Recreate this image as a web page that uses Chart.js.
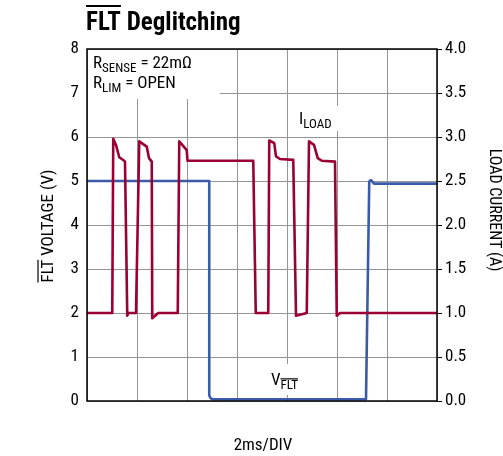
<!DOCTYPE html>
<html lang="en">
<head>
    <meta charset="UTF-8">
    <title>FLT Deglitching</title>
    <script src="https://cdn.jsdelivr.net/npm/chart.js@4.4.0/dist/chart.umd.min.js"></script>
    <style>
        html, body { margin: 0; padding: 0; background: #ffffff; }
        #wrap { width: 503px; height: 456px; }
    </style>
</head>
<body>
<div id="wrap"><canvas id="canvas" width="503" height="456"></canvas></div>
<script>
    // time axis in ms, 2ms per division, 7 divisions
    const xTicksMs = [0, 2, 4, 6, 8, 10, 12, 14]
    const voltTicks = [0, 1, 2, 3, 4, 5, 6, 7, 8]
    const ampTicks = [0, 0.5, 1, 1.5, 2, 2.5, 3, 3.5, 4]

    // I_LOAD trace (right axis, A)
    const loadTimeMs = [0, 1.01, 1.05, 1.16, 1.29, 1.49, 1.52, 1.61, 1.66, 1.96, 1.99, 2.09, 2.39, 2.48, 2.59, 2.61, 2.85,
        3.63, 3.69, 3.99, 4.02, 6.65, 6.75, 7.25, 7.29, 7.49, 7.56, 7.72, 8.25, 8.36, 8.79,
        8.88, 9.08, 9.23, 9.39, 9.92, 9.99, 10.12, 14]
    const loadAmps = [1.0, 1.0, 2.98, 2.91, 2.77, 2.73, 2.72, 0.97, 1.0, 1.0, 1.0, 2.95, 2.89, 2.76, 2.72, 0.94, 1.0,
        1.0, 2.95, 2.85, 2.73, 2.73, 1.0, 1.0, 2.96, 2.93, 2.78, 2.75, 2.74, 0.97, 1.0,
        2.95, 2.91, 2.76, 2.73, 2.72, 0.97, 1.0, 1.0]

    // V_FLT trace (left axis, V)
    const fltTimeMs = [0, 4.89, 4.89, 4.95, 5.04, 11.16, 11.29, 11.36, 11.48, 14]
    const fltVolts = [5.0, 5.0, 0.12, 0.06, 0.04, 0.04, 4.99, 5.02, 4.94, 4.94]

    const FAMILY = "'Liberation Sans Narrow', 'Roboto Condensed', 'DejaVu Sans Condensed', 'Liberation Sans', sans-serif"
    const RED = '#9a0033'
    const BLUE = '#3b5ba9'
    const GRID = '#959595'

    const toPoints = (xs, ys) => xs.map((x, i) => ({ x: x, y: ys[i] }))

    const font = (size, bold) => (bold ? 'bold ' : '') + size + 'px ' + FAMILY

    // text with subscript, optional overline on the subscript
    const drawSub = (ctx, x, y, main, sub, size, subSize, overSub) => {
        ctx.font = font(size)
        ctx.fillText(main, x, y)
        const w = ctx.measureText(main).width
        ctx.font = font(subSize)
        ctx.fillText(sub, x + w, y + 4)
        const sw = ctx.measureText(sub).width
        if (overSub) {
            ctx.beginPath()
            ctx.lineWidth = 1.2
            ctx.moveTo(x + w, y + 4 - subSize * 0.78)
            ctx.lineTo(x + w + sw, y + 4 - subSize * 0.78)
            ctx.stroke()
        }
        return x + w + sw
    }

    const labelsPlugin = {
        id: 'labels',
        beforeDatasetsDraw: (chart) => {
            const ctx = chart.ctx
            ctx.save()
            ctx.fillStyle = '#ffffff'
            ctx.fillRect(88, 50, 132, 49)
            ctx.fillRect(296, 106, 46, 25)
            ctx.fillRect(268, 364, 38, 31)
            ctx.restore()
        },
        afterDraw: (chart) => {
            const ctx = chart.ctx
            const area = chart.chartArea
            ctx.save()
            // frame
            ctx.strokeStyle = '#000000'
            ctx.lineWidth = 1.5
            ctx.strokeRect(area.left, area.top, area.right - area.left, area.bottom - area.top)

            ctx.fillStyle = '#000000'
            ctx.strokeStyle = '#000000'
            ctx.textBaseline = 'alphabetic'
            ctx.textAlign = 'left'

            // title
            ctx.font = font(25, true)
            ctx.fillText('FLT Deglitching', 86, 30)
            const fw = ctx.measureText('FLT').width
            ctx.beginPath()
            ctx.lineWidth = 2
            ctx.moveTo(86, 6)
            ctx.lineTo(86 + fw, 6)
            ctx.stroke()

            // conditions
            let x = drawSub(ctx, 93, 68, 'R', 'SENSE', 17, 13, false)
            ctx.font = font(17)
            ctx.fillText(' = 22m\u03A9', x, 68)
            x = drawSub(ctx, 93, 88, 'R', 'LIM', 17, 13, false)
            ctx.font = font(17)
            ctx.fillText(' = OPEN', x, 88)

            // trace labels
            drawSub(ctx, 299, 124, 'I', 'LOAD', 17, 13, false)
            drawSub(ctx, 271, 385, 'V', 'FLT', 17, 13, true)

            // x label
            ctx.font = font(17)
            ctx.textAlign = 'center'
            ctx.fillText('2ms/DIV', 263, 450)

            // left axis title
            ctx.save()
            ctx.translate(53, 226)
            ctx.rotate(-Math.PI / 2)
            ctx.font = font(17)
            ctx.textAlign = 'left'
            const lt = 'FLT VOLTAGE (V)'
            const lw = ctx.measureText(lt).width
            ctx.fillText(lt, -lw / 2, 0)
            const lf = ctx.measureText('FLT').width
            ctx.beginPath()
            ctx.lineWidth = 1.2
            ctx.moveTo(-lw / 2, -15)
            ctx.lineTo(-lw / 2 + lf, -15)
            ctx.stroke()
            ctx.restore()

            // right axis title
            ctx.save()
            ctx.translate(490, 210)
            ctx.rotate(Math.PI / 2)
            ctx.font = font(16)
            ctx.textAlign = 'center'
            ctx.fillText('LOAD CURRENT (A)', 0, 0)
            ctx.restore()

            ctx.restore()
        }
    }

    new Chart(document.getElementById('canvas').getContext('2d'), {
        type: 'line',
        data: {
            datasets: [
                {
                    label: 'I_LOAD',
                    data: toPoints(loadTimeMs, loadAmps),
                    yAxisID: 'yA',
                    borderColor: RED,
                    borderWidth: 2.6,
                    pointRadius: 0,
                    tension: 0,
                    borderJoinStyle: 'round',
                    fill: false
                },
                {
                    label: 'V_FLT',
                    data: toPoints(fltTimeMs, fltVolts),
                    yAxisID: 'yV',
                    borderColor: BLUE,
                    borderWidth: 2.6,
                    pointRadius: 0,
                    tension: 0,
                    borderJoinStyle: 'round',
                    fill: false
                }
            ]
        },
        options: {
            responsive: false,
            animation: false,
            devicePixelRatio: 1,
            layout: { padding: { top: 49, left: 0, right: 0, bottom: 0 } },
            plugins: {
                legend: { display: false },
                tooltip: { enabled: false }
            },
            scales: {
                x: {
                    type: 'linear',
                    min: 0,
                    max: 14,
                    afterBuildTicks: (s) => { s.ticks = xTicksMs.map(v => ({ value: v })) },
                    afterFit: (s) => { s.height = 55 },
                    ticks: { display: false },
                    border: { display: false },
                    grid: { color: GRID, lineWidth: 1, tickLength: 0 }
                },
                yV: {
                    type: 'linear',
                    position: 'left',
                    min: 0,
                    max: 8,
                    afterBuildTicks: (s) => { s.ticks = voltTicks.map(v => ({ value: v })) },
                    afterFit: (s) => { s.width = 87 },
                    border: { display: false },
                    grid: { color: GRID, lineWidth: 1, tickLength: 0 },
                    ticks: {
                        color: '#000000',
                        padding: 8,
                        font: { family: FAMILY, size: 17 },
                        callback: (v) => String(v)
                    }
                },
                yA: {
                    type: 'linear',
                    position: 'right',
                    min: 0,
                    max: 4,
                    afterBuildTicks: (s) => { s.ticks = ampTicks.map(v => ({ value: v })) },
                    afterFit: (s) => { s.width = 66 },
                    border: { display: false },
                    grid: { drawOnChartArea: false, color: '#000000', lineWidth: 1, tickLength: 5 },
                    ticks: {
                        color: '#000000',
                        padding: 3,
                        font: { family: FAMILY, size: 17 },
                        callback: (v) => v.toFixed(1)
                    }
                }
            }
        },
        plugins: [labelsPlugin]
    })
</script>
</body>
</html>
